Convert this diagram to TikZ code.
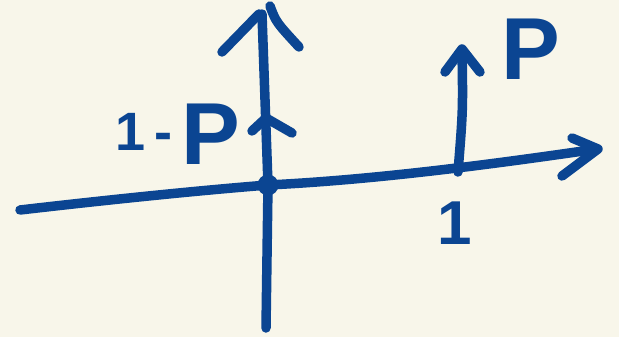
\documentclass[tikz,border=0pt]{standalone}
\usepackage{fontspec}
\setmainfont{Liberation Sans}
\definecolor{ink}{HTML}{0B4592}
\definecolor{paper}{HTML}{F8F6EA}
\begin{document}
\begin{tikzpicture}[x=1pt,y=-1pt,
  stroke/.style={draw=ink, line width=9.5pt, line cap=round, line join=round},
  lbl/.style={text=ink, font=\bfseries, inner sep=0pt}]
\fill[paper] (0,0) rectangle (619,337);
\useasboundingbox (0,0) rectangle (619,337);
\coordinate (O) at (268,185);
\coordinate (X1) at (458,172);
% horizontal axis
\draw[stroke] (20,210) .. controls (150,195) and (230,188) .. (O)
  .. controls (370,180) and (480,166) .. (590,150);
\draw[stroke] (572,138) -- (598,149) -- (562,176);
% vertical axis
\draw[stroke] (266,328) -- (O) -- (262,14);
\draw[stroke] (222,52) -- (259,14);
\draw[stroke] (270,6) .. controls (276,22) .. (299,47);
\fill[ink] (O) circle (10.5);
% small arrow at 0
\draw[stroke] (252,131) -- (266,118) -- (292,133);
% spike at 1
\draw[stroke] (X1) .. controls (463,110) .. (462,50);
\draw[stroke] (445,72) -- (462,49) -- (480,72);
% labels
\node[lbl] (lp) at (531,49) {\fontsize{88}{88}\selectfont P};
\node[lbl] (l1p) at (178,134) {\raisebox{14pt}{\fontsize{54}{54}\selectfont 1\,-\,}{\fontsize{88}{88}\selectfont P}};
\node[lbl] (l1) at (455,223) {\fontsize{62}{62}\selectfont 1};
\end{tikzpicture}
\end{document}
